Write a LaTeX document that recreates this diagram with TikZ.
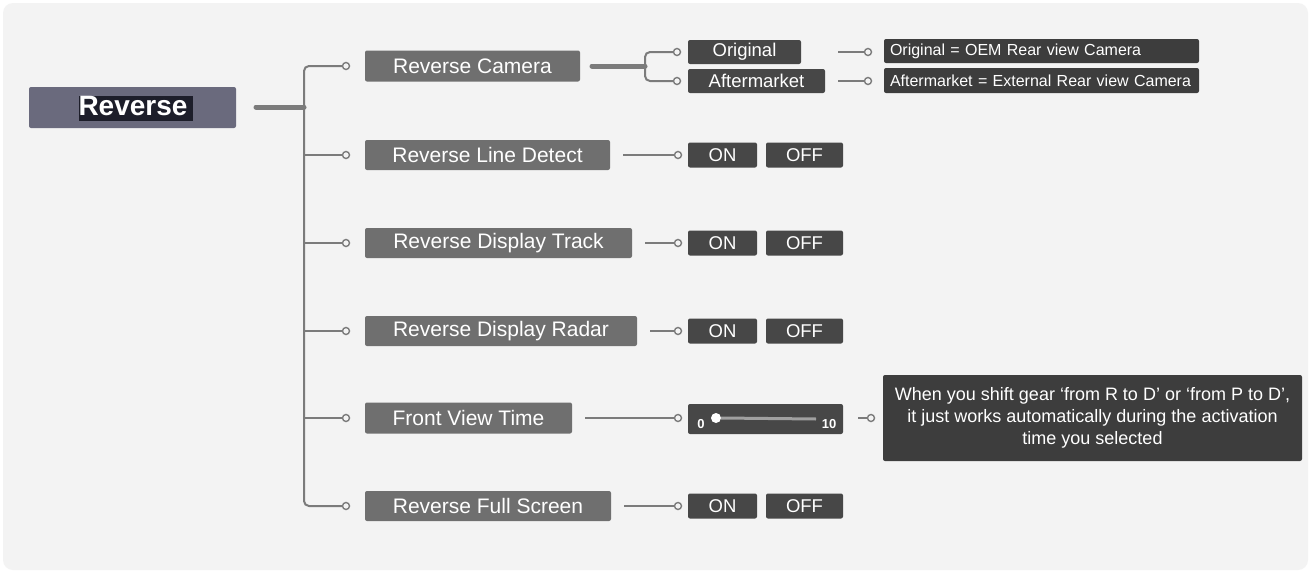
\documentclass[tikz,border=0pt]{standalone}
\usepackage{fontspec}
\setmainfont{Liberation Sans}
\definecolor{bgc}{HTML}{F3F3F3}
\definecolor{revc}{HTML}{6A6A7D}
\definecolor{hlc}{HTML}{1D1E2A}
\definecolor{childc}{HTML}{6F6F6F}
\definecolor{darkc}{HTML}{474747}
\definecolor{descc}{HTML}{3D3D3D}
\definecolor{linec}{HTML}{7B7B7B}
\definecolor{trackc}{HTML}{A0A0A0}
\tikzset{
  box/.style={rectangle, rounded corners=2pt, inner sep=0pt, text=white, align=center},
  childbox/.style={box, fill=childc, font=\fontsize{21}{25}\selectfont},
  subbox/.style={box, fill=darkc, font=\fontsize{18.5}{22}\selectfont},
  descbox/.style={box, fill=descc, font=\fontsize{16}{19}\selectfont, align=left, text width=#1},
  dot/.style={circle, draw=linec, fill=bgc, line width=1.4pt, minimum size=7pt, inner sep=0pt},
  conn/.style={draw=linec, line width=2pt},
  thinconn/.style={draw=linec, line width=1.3pt},
  thickconn/.style={draw=linec, line width=5pt, line cap=round},
}
\begin{document}
\begin{tikzpicture}[x=1pt,y=-1pt]
\useasboundingbox (0,0) rectangle (1310,573);
\fill[white] (0,0) rectangle (1310,573);
\fill[bgc, rounded corners=10pt] (3,3) rectangle (1308,570);

% root
\node[box, fill=revc, minimum width=207pt, minimum height=41pt] (rev) at (132.5,107.5) {};
\node[rectangle, fill=hlc, minimum width=114pt, minimum height=25pt, inner sep=0pt] (revhl) at (136,108.5) {};
\node[text=white, font=\bfseries\fontsize{28}{32}\selectfont, inner sep=0pt] (revtxt) at (133,106) {Reverse};

% children
\node[childbox, minimum width=215pt, minimum height=31pt] (rc) at (472.5,66) {Reverse Camera};
\node[childbox, minimum width=245pt, minimum height=30pt] (rld) at (487.5,155) {Reverse Line Detect};
\node[childbox, minimum width=267pt, minimum height=30pt] (rdt) at (498.5,243) {Reverse Display Track};
\node[childbox, minimum width=272pt, minimum height=30pt] (rdr) at (501,331) {Reverse Display Radar};
\node[childbox, minimum width=207pt, minimum height=31pt] (fvt) at (468.5,418) {Front View Time};
\node[childbox, minimum width=246pt, minimum height=30pt] (rfs) at (488,506) {Reverse Full Screen};

% trunk
\coordinate (rs) at (256,107);
\coordinate (t) at (304,107);
\coordinate (ttop) at (304,66);
\coordinate (tbot) at (304,506);
\node[dot] (d1) at (346,66) {};
\node[dot] (d2) at (346,155) {};
\node[dot] (d3) at (346,243) {};
\node[dot] (d4) at (346,331) {};
\node[dot] (d5) at (346,418) {};
\node[dot] (d6) at (346,506) {};
\draw[thickconn] (rs) -- (t);
\draw[conn, rounded corners=5pt] (d1.west) -- (ttop) -- (tbot) -- (d6.west);
\draw[conn] (304,155) -- (d2.west);
\draw[conn] (304,243) -- (d3.west);
\draw[conn] (304,331) -- (d4.west);
\draw[conn] (304,418) -- (d5.west);

% camera sub-options
\node[subbox, minimum width=113pt, minimum height=24pt] (orig) at (744.5,52) {\raisebox{-1pt}{Original}};
\node[subbox, minimum width=137pt, minimum height=24pt] (after) at (756.5,81) {Aftermarket};
\node[dot] (co) at (677,52) {};
\node[dot] (ca) at (677,81) {};
\coordinate (cs) at (592,66);
\coordinate (cb) at (645,66);
\draw[thickconn] (cs) -- (cb);
\draw[conn, rounded corners=5pt] (co.west) -- (645,52) -- (645,81) -- (ca.west);

\node[descbox=303pt, minimum width=315pt, minimum height=24pt] (d1box) at (1041.5,51) {Original = OEM Rear view Camera};
\node[descbox=303pt, minimum width=315pt, minimum height=25pt] (d2box) at (1041.5,80.5) {Aftermarket = External Rear view Camera};
\node[dot] (od) at (868,52) {};
\node[dot] (ad) at (868,81) {};
\coordinate (os) at (838,52);
\coordinate (as) at (838,81);
\draw[thinconn] (os) -- (od.west);
\draw[thinconn] (as) -- (ad.west);

% ON / OFF rows
\foreach \n/\y in {rld/155, rdt/243, rdr/331, rfs/506}{
  \node[subbox, minimum width=69pt, minimum height=25pt] (\n on) at (722.5,\y) {ON};
  \node[subbox, minimum width=77pt, minimum height=25pt] (\n off) at (804.5,\y) {OFF};
  \node[dot] (\n dot) at (678,\y) {};
  \draw[thinconn] ([xshift=13pt]\n.east) -- (\n dot.west);
}

% front view time slider
\node[box, fill=darkc, minimum width=155pt, minimum height=30pt] (slider) at (765.5,419) {};
\node[dot] (fdot) at (678,418) {};
\draw[thinconn] ([xshift=13pt]fvt.east) -- (fdot.west);
\node[text=white, font=\bfseries\fontsize{13}{15}\selectfont, inner sep=0pt] (s0) at (701,424) {0};
\node[text=white, font=\bfseries\fontsize{13}{15}\selectfont, inner sep=0pt] (s10) at (829,424) {10};
\node[circle, fill=white, minimum size=10pt, inner sep=0pt] (knob) at (716,418) {};
\coordinate (trackend) at (816,419);
\draw[trackc, line width=3pt] (knob.east) -- (trackend);

\node[box, fill=descc, minimum width=419pt, minimum height=86pt, font=\fontsize{18}{22}\selectfont] (d3box) at (1092.5,418) {When you shift gear ‘from R to D’ or ‘from P to D’,\\it just works automatically during the activation\\time you selected};
\node[dot] (sdot) at (871,418) {};
\coordinate (ss) at (858,418);
\draw[thinconn] (ss) -- (sdot.west);
\end{tikzpicture}
\end{document}
